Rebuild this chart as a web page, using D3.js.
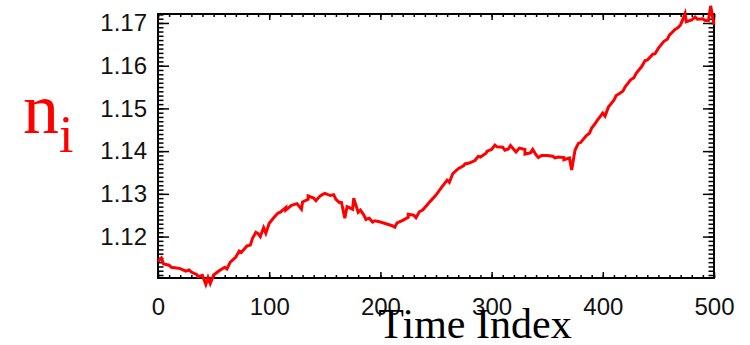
<!DOCTYPE html>
<html>
<head>
<meta charset="utf-8">
<script src="https://cdn.jsdelivr.net/npm/d3@7"></script>
<style>
  body { margin: 0; background: #fff; }
</style>
</head>
<body>
<svg id="chart" width="750" height="345"></svg>
<script>
// Time index samples (every 5 steps) and the value
const timeIndex = d3.range(0, 501, 5);
const ionDensity = [
  1.1142, 1.1136, 1.1133, 1.1127, 1.1125, 1.1119, 1.1117, 1.1111, 1.1109, 1.1104,
  1.1110, 1.1120, 1.1128, 1.1140, 1.1152, 1.1163, 1.1178, 1.1196, 1.1207, 1.1221,
  1.1231, 1.1247, 1.1257, 1.1268, 1.1273, 1.1277, 1.1281, 1.1287, 1.1290, 1.1293,
  1.1301, 1.1296, 1.1287, 1.1280, 1.1270, 1.1264, 1.1257, 1.1251, 1.1243, 1.1237,
  1.1234, 1.1230, 1.1226, 1.1232, 1.1238, 1.1245, 1.1250, 1.1258, 1.1268, 1.1283,
  1.1297, 1.1315, 1.1332, 1.1347, 1.1359, 1.1366, 1.1372, 1.1378, 1.1386, 1.1395,
  1.1404, 1.1410, 1.1409, 1.1405, 1.1404, 1.1407, 1.1404, 1.1396, 1.1391, 1.1390,
  1.1390, 1.1388, 1.1386, 1.1385, 1.1384, 1.1402, 1.1420, 1.1436, 1.1454, 1.1472,
  1.1489, 1.1503, 1.1519, 1.1535, 1.1550, 1.1567, 1.1582, 1.1598, 1.1613, 1.1627,
  1.1641, 1.1657, 1.1672, 1.1685, 1.1696, 1.1703, 1.1707, 1.1709, 1.1710, 1.1706,
  1.1696
];

// Noise and spikes visible on the trace, between the regular samples
const spikeIndex = [
  3, 12, 28, 36, 43, 47, 62, 73, 83, 88, 92, 97,
  108, 115, 129, 135, 142, 147, 158, 163, 168, 176, 182, 187, 193,
  213, 225, 232, 238, 262, 276, 288, 296,
  303, 312, 317, 322, 330, 337, 342, 357, 365, 372,
  378, 388, 393, 402, 412, 418, 428, 438, 447, 458, 468, 474, 483, 492, 497
];
const spikeValue = [
  1.1150, 1.1128, 1.1122, 1.1106, 1.1088, 1.1090, 1.1124, 1.1166, 1.1180, 1.1210, 1.1200, 1.1208,
  1.1255, 1.1262, 1.1264, 1.1295, 1.1284, 1.1297, 1.1298, 1.1280, 1.1243, 1.1290, 1.1262, 1.1240, 1.1234,
  1.1222, 1.1252, 1.1244, 1.1262, 1.1327, 1.1370, 1.1388, 1.1400,
  1.1414, 1.1402, 1.1413, 1.1398, 1.1393, 1.1404, 1.1385, 1.1384, 1.1380, 1.1356,
  1.1418, 1.1442, 1.1464, 1.1482, 1.1530, 1.1540, 1.1572, 1.1612, 1.1628, 1.1662, 1.1690, 1.1722, 1.1714, 1.1706, 1.1740
];

const xTicks = [0, 100, 200, 300, 400, 500];
const yTicks = [1.12, 1.13, 1.14, 1.15, 1.16, 1.17];

// Merge the samples and the spikes into one trace ordered by time
const trace = timeIndex.map((t, i) => ({ t, v: ionDensity[i] }))
  .concat(spikeIndex.map((t, i) => ({ t, v: spikeValue[i] })))
  .sort((a, b) => a.t - b.t);

const plotLeft = 158, plotRight = 714, plotTop = 14, plotBottom = 278;
const svg = d3.select('#chart');

const x = d3.scaleLinear().domain([0, 500]).range([plotLeft, plotRight]);
const y = d3.scaleLinear().domain([1.1103, 1.1721]).range([plotBottom, plotTop]);

const xMinor = d3.range(0, 501, 10);
const yMinor = d3.range(1111, 1173, 1).map(d => d / 1000);

const tickFont = '"Liberation Sans", Arial, sans-serif';

function styleAxis(g) {
  g.select('.domain').remove();
  g.selectAll('line').attr('stroke', '#000').attr('stroke-width', 1.5);
  g.selectAll('text')
    .style('font-family', tickFont)
    .style('font-size', '24px')
    .attr('fill', '#111');
}

// Bottom axis: labels + major + minor ticks (inward)
svg.append('g').attr('transform', `translate(0,${plotBottom})`)
  .call(d3.axisBottom(x).tickValues(xMinor).tickFormat('').tickSizeInner(-3).tickSizeOuter(0))
  .call(styleAxis);
svg.append('g').attr('transform', `translate(0,${plotBottom})`)
  .call(d3.axisBottom(x).tickValues(xTicks).tickFormat(d3.format('d'))
    .tickSizeInner(-6).tickSizeOuter(0).tickPadding(20))
  .call(styleAxis);

// Top axis: ticks only
svg.append('g').attr('transform', `translate(0,${plotTop})`)
  .call(d3.axisTop(x).tickValues(xMinor).tickFormat('').tickSizeInner(-3).tickSizeOuter(0))
  .call(styleAxis);
svg.append('g').attr('transform', `translate(0,${plotTop})`)
  .call(d3.axisTop(x).tickValues(xTicks).tickFormat('').tickSizeInner(-6).tickSizeOuter(0))
  .call(styleAxis);

// Left axis: labels + ticks
svg.append('g').attr('transform', `translate(${plotLeft},0)`)
  .call(d3.axisLeft(y).tickValues(yMinor).tickFormat('').tickSizeInner(-5.5).tickSizeOuter(0))
  .call(styleAxis);
svg.append('g').attr('transform', `translate(${plotLeft},0)`)
  .call(d3.axisLeft(y).tickValues(yTicks).tickFormat(d3.format('.2f'))
    .tickSizeInner(-11).tickSizeOuter(0).tickPadding(11))
  .call(styleAxis);

// Right axis: ticks only
svg.append('g').attr('transform', `translate(${plotRight},0)`)
  .call(d3.axisRight(y).tickValues(yMinor).tickFormat('').tickSizeInner(-5.5).tickSizeOuter(0))
  .call(styleAxis);
svg.append('g').attr('transform', `translate(${plotRight},0)`)
  .call(d3.axisRight(y).tickValues(yTicks).tickFormat('').tickSizeInner(-11).tickSizeOuter(0))
  .call(styleAxis);

// Plot frame
svg.append('rect')
  .attr('x', plotLeft).attr('y', plotTop)
  .attr('width', plotRight - plotLeft).attr('height', plotBottom - plotTop)
  .attr('fill', 'none').attr('stroke', '#000').attr('stroke-width', 2);

// Trace
svg.append('path')
  .datum(trace)
  .attr('fill', 'none')
  .attr('stroke', '#ff0000')
  .attr('stroke-width', 3)
  .attr('stroke-linejoin', 'miter')
  .attr('d', d3.line().x(d => x(d.t)).y(d => y(d.v)));

// Axis titles
svg.append('text')
  .attr('x', 475).attr('y', 338)
  .attr('text-anchor', 'middle')
  .style('font-family', '"Liberation Serif", "Times New Roman", serif')
  .style('font-size', '42px')
  .attr('fill', '#000')
  .text('Time Index');

const yTitle = svg.append('text')
  .attr('x', 23).attr('y', 133)
  .style('font-family', '"Liberation Serif", "Times New Roman", serif')
  .attr('fill', '#ff0000');
yTitle.append('tspan').style('font-size', '72px').text('n');
yTitle.append('tspan').attr('y', 152).style('font-size', '52px').text('i');
</script>
</body>
</html>
